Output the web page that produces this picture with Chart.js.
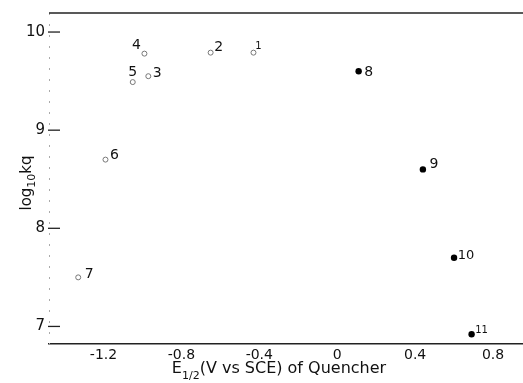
<!DOCTYPE html>
<html>
<head>
<meta charset="utf-8">
<script src="https://cdn.jsdelivr.net/npm/chart.js@4/dist/chart.umd.min.js"></script>
<style>
  html, body { margin: 0; padding: 0; background: #fff; }
  #wrap { width: 523px; height: 383px; }
</style>
</head>
<body>
<div id="wrap"><canvas id="c" width="523" height="383"></canvas></div>
<script>
// ---- data ----
const pointLabels = ['1', '2', '3', '4', '5', '6', '7', '8', '9', '10', '11'];
const eHalf = [-0.43, -0.65, -0.97, -0.99, -1.05, -1.19, -1.33, 0.11, 0.44, 0.60, 0.69];
const logKq = [9.79, 9.79, 9.55, 9.78, 9.49, 8.70, 7.50, 9.60, 8.60, 7.70, 6.92];
const quencherKind = ['open', 'open', 'open', 'open', 'open', 'open', 'open', 'filled', 'filled', 'filled', 'filled'];
const xTicks = [-1.2, -0.8, -0.4, 0, 0.4, 0.8];
const yTicks = [7, 8, 9, 10];

// ---- styles (label offsets from marker, in px) ----
const labelOffsets = [[5, -6], [8, -5], [9, -3], [-8, -8], [0, -10], [9, -4], [11, -3], [10, 1], [11, -5], [12, -2], [10, -4]];
const labelSizes = [10, 14, 14, 14, 14, 14, 14, 14, 14, 13, 10];
const FAMILY = '"DejaVu Sans", "Liberation Sans", sans-serif';

function pts(kind) {
  const out = [];
  eHalf.forEach((x, i) => { if (quencherKind[i] === kind) out.push({ x: x, y: logKq[i] }); });
  return out;
}

function measureRich(ctx, segs) {
  let w = 0;
  segs.forEach(s => { ctx.font = s.size + 'px ' + FAMILY; w += ctx.measureText(s.text).width; });
  return w;
}
function fillRich(ctx, segs, x, y) {
  let cx = x;
  segs.forEach(s => {
    ctx.font = s.size + 'px ' + FAMILY;
    ctx.fillText(s.text, cx, y + (s.dy || 0));
    cx += ctx.measureText(s.text).width;
  });
}

const decorations = {
  id: 'decorations',
  afterDraw(chart) {
    const ctx = chart.ctx;
    const a = chart.chartArea;
    const xs = chart.scales.x, ys = chart.scales.y;
    ctx.save();
    // faint broken left axis
    ctx.strokeStyle = '#aaa';
    ctx.lineWidth = 1;
    ctx.setLineDash([2, 9]);
    ctx.beginPath();
    ctx.moveTo(a.left + 0.5, a.top);
    ctx.lineTo(a.left + 0.5, a.bottom);
    ctx.stroke();
    ctx.setLineDash([]);
    // top frame line
    ctx.strokeStyle = '#222';
    ctx.lineWidth = 1.5;
    ctx.beginPath();
    ctx.moveTo(a.left, a.top);
    ctx.lineTo(a.right, a.top);
    ctx.stroke();
    // inward y tick marks
    ctx.lineWidth = 1.3;
    yTicks.forEach(v => {
      const py = ys.getPixelForValue(v);
      ctx.beginPath();
      ctx.moveTo(a.left - 1, py);
      ctx.lineTo(a.left + 11, py);
      ctx.stroke();
    });
    // point labels
    ctx.fillStyle = '#111';
    ctx.textAlign = 'center';
    ctx.textBaseline = 'middle';
    pointLabels.forEach((t, i) => {
      const px = xs.getPixelForValue(eHalf[i]);
      const py = ys.getPixelForValue(logKq[i]);
      ctx.font = labelSizes[i] + 'px ' + FAMILY;
      ctx.fillText(t, px + labelOffsets[i][0], py + labelOffsets[i][1]);
    });
    // axis titles
    ctx.textAlign = 'left';
    ctx.textBaseline = 'alphabetic';
    const xSegs = [
      { text: 'E', size: 16 },
      { text: '1/2', size: 11, dy: 6 },
      { text: '(V vs SCE) of Quencher', size: 16 }
    ];
    const xw = measureRich(ctx, xSegs);
    fillRich(ctx, xSegs, 279 - xw / 2, 373);
    const ySegs = [
      { text: 'log', size: 15 },
      { text: '10', size: 11, dy: 4 },
      { text: 'kq', size: 15 }
    ];
    const yw = measureRich(ctx, ySegs);
    ctx.translate(31, 183 + yw / 2);
    ctx.rotate(-Math.PI / 2);
    fillRich(ctx, ySegs, 0, 0);
    ctx.restore();
  }
};

new Chart(document.getElementById('c'), {
  type: 'scatter',
  data: {
    datasets: [
      {
        label: 'open',
        data: pts('open'),
        pointStyle: 'circle',
        pointRadius: 2.5,
        pointBorderWidth: 1,
        pointBorderColor: '#777',
        pointBackgroundColor: '#fff'
      },
      {
        label: 'filled',
        data: pts('filled'),
        pointStyle: 'circle',
        pointRadius: 3.2,
        pointBorderWidth: 0,
        pointBorderColor: '#000',
        pointBackgroundColor: '#000'
      }
    ]
  },
  options: {
    responsive: false,
    animation: false,
    events: [],
    layout: { padding: { top: 13, left: 0, right: 0, bottom: 0 }, autoPadding: false },
    plugins: { legend: { display: false }, tooltip: { enabled: false } },
    scales: {
      x: {
        type: 'linear',
        min: -1.48,
        max: 0.954,
        afterBuildTicks: s => { s.ticks = xTicks.map(v => ({ value: v })); },
        afterFit: s => { s.height = 39; },
        grid: { display: false, drawTicks: false },
        border: { display: true, color: '#222', width: 1.5 },
        ticks: {
          padding: 3,
          color: '#111',
          font: { family: FAMILY, size: 14 },
          maxRotation: 0,
          autoSkip: false,
          callback: v => (v === 0 ? '0' : String(v))
        }
      },
      y: {
        type: 'linear',
        min: 6.821,
        max: 10.194,
        afterBuildTicks: s => { s.ticks = yTicks.map(v => ({ value: v })); },
        afterFit: s => { s.width = 49; },
        grid: { display: false, drawTicks: false },
        border: { display: false },
        ticks: {
          padding: 4,
          color: '#111',
          font: { family: FAMILY, size: 15 },
          autoSkip: false,
          callback: v => String(v)
        }
      }
    }
  },
  plugins: [decorations]
});
</script>
</body>
</html>
